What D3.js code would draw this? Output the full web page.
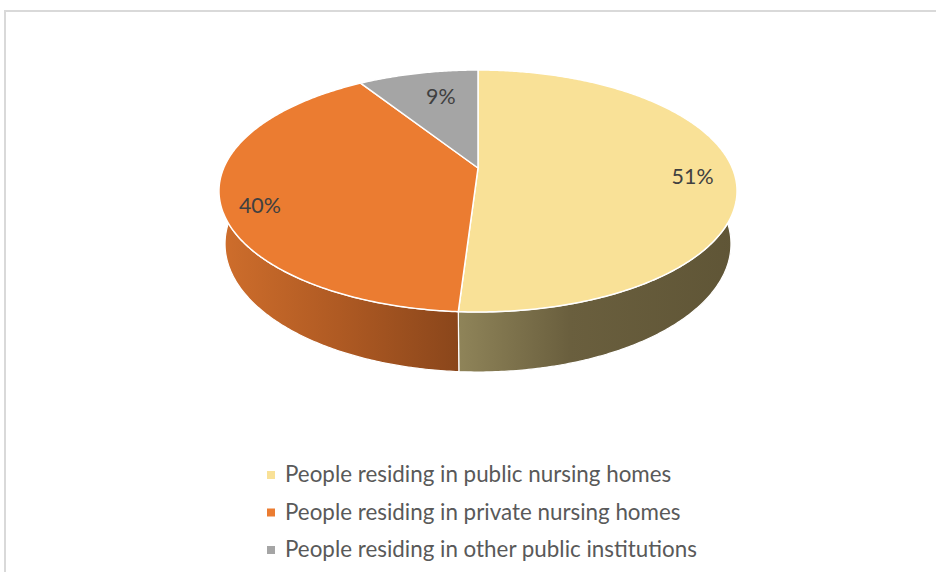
<!DOCTYPE html>
<html>
<head>
<meta charset="utf-8">
<script src="https://cdn.jsdelivr.net/npm/d3@7/dist/d3.min.js"></script>
<style>
  html, body { margin: 0; padding: 0; background: #ffffff; }
  svg { display: block; }
</style>
</head>
<body>
<svg id="chart" width="936" height="572"></svg>
<script>
// ---- data ----
const categories = [
  "People residing in public nursing homes",
  "People residing in private nursing homes",
  "People residing in other public institutions"
];
const values = [51, 40, 9];
const valueLabels = ["51%", "40%", "9%"];

// ---- styles / layout (kept separate from the data) ----
const topColors = ["#f9e197", "#eb7c31", "#a5a5a5"];
const sideStops = [
  [["0", "#8f8459"], ["0.4", "#6a5f3e"], ["1", "#5f5536"]],
  [["0", "#cf6e2c"], ["0.5", "#af5a23"], ["1", "#8a461b"]],
  [["0", "#8a8a8a"], ["1", "#5a5a5a"]]
];
const labelLayout = [{ r: 0.84, dy: 5 }, { r: 0.85, dy: 11 }, { r: 0.58, dy: -13 }];

const W = 936, H = 572;
const svg = d3.select("#chart");

// frame
svg.append("rect")
  .attr("x", 5).attr("y", 11)
  .attr("width", 1000).attr("height", 1000)
  .attr("fill", "none").attr("stroke", "#d9d9d9").attr("stroke-width", 2);

// ---- perspective projection of a unit-radius disk ----
const cam = { cx: 478, cy: 168, D: 4.677, f: 1189.4, sinA: 0.4586, cosA: 0.8887 };
const thickness = 0.236;
function proj(theta, r, y) {
  const X = r * Math.sin(theta), Z = r * Math.cos(theta);
  const depth = cam.D + Z * cam.cosA - y * cam.sinA;
  return [cam.cx + cam.f * X / depth, cam.cy - cam.f * (y * cam.cosA + Z * cam.sinA) / depth];
}

const pie = d3.pie().sort(null).value(d => d)
  .startAngle(0).endAngle(2 * Math.PI);
const arcs = pie(values);
const line = d3.line();

function sampleAngles(a0, a1) {
  const n = Math.max(2, Math.ceil((a1 - a0) / 0.01));
  return d3.range(n + 1).map(i => a0 + (a1 - a0) * i / n);
}

const defs = svg.append("defs");

// ---- side walls (near half only) ----
const gSide = svg.append("g");
arcs.forEach((a, i) => {
  const lo = Math.max(a.startAngle, Math.PI / 2);
  const hi = Math.min(a.endAngle, 3 * Math.PI / 2);
  if (hi <= lo) return;
  const angs = sampleAngles(lo, hi);
  const topPts = angs.map(t => proj(t, 1, 0));
  const botPts = angs.slice().reverse().map(t => proj(t, 1, -thickness));
  const pts = topPts.concat(botPts);
  const xs = pts.map(p => p[0]);
  const gid = "side" + i;
  const grad = defs.append("linearGradient")
    .attr("id", gid).attr("gradientUnits", "userSpaceOnUse")
    .attr("x1", d3.min(xs)).attr("x2", d3.max(xs)).attr("y1", 0).attr("y2", 0);
  let stops = sideStops[i];
  // left-to-right gradient: for slices on the right side the lighter end is at the left (toward the front)
  grad.selectAll("stop").data(stops).join("stop")
    .attr("offset", d => d[0]).attr("stop-color", d => d[1]);
  gSide.append("path")
    .attr("d", line(pts) + "Z")
    .attr("fill", `url(#${gid})`)
    .attr("stroke", "#ffffff").attr("stroke-width", 1.2).attr("stroke-linejoin", "round");
});
// reverse orange gradient direction (darker toward the seam on the right)
// (stops already defined light->dark from left to right)

// ---- top face ----
const gTop = svg.append("g");
arcs.forEach((a, i) => {
  const angs = sampleAngles(a.startAngle, a.endAngle);
  const pts = [proj(0, 0, 0)].concat(angs.map(t => proj(t, 1, 0)));
  gTop.append("path")
    .attr("d", line(pts) + "Z")
    .attr("fill", topColors[i])
    .attr("stroke", "#ffffff").attr("stroke-width", 1.5).attr("stroke-linejoin", "round");
});

// ---- data labels ----
const fontFamily = "Lato, 'Open Sans', sans-serif";
const gLab = svg.append("g");
const probe = gLab.append("text").attr("font-family", fontFamily).attr("font-size", 20).text(valueLabels[0]);
const labelSize = 20 * 42 / probe.node().getComputedTextLength();
probe.remove();
arcs.forEach((a, i) => {
  const mid = (a.startAngle + a.endAngle) / 2;
  const p = proj(mid, labelLayout[i].r, 0);
  gLab.append("text")
    .attr("x", p[0]).attr("y", p[1] + labelLayout[i].dy)
    .attr("text-anchor", "middle").attr("dominant-baseline", "central")
    .attr("font-family", fontFamily).attr("font-size", labelSize)
    .attr("fill", "#404040")
    .text(valueLabels[i]);
});

// ---- legend ----
const gLeg = svg.append("g");
const probe2 = gLeg.append("text").attr("font-family", fontFamily).attr("font-size", 20).text(categories[2]);
const legSize = 20 * 412 / probe2.node().getComputedTextLength();
probe2.remove();
const legY = d3.scalePoint().domain(d3.range(categories.length)).range([482, 557]);
categories.forEach((c, i) => {
  const y = legY(i);
  gLeg.append("rect")
    .attr("x", 267).attr("y", y - 11).attr("width", 8).attr("height", 8)
    .attr("fill", topColors[i]);
  gLeg.append("text")
    .attr("x", 285).attr("y", y)
    .attr("font-family", fontFamily).attr("font-size", legSize)
    .attr("fill", "#595959")
    .text(c);
});
</script>
</body>
</html>
